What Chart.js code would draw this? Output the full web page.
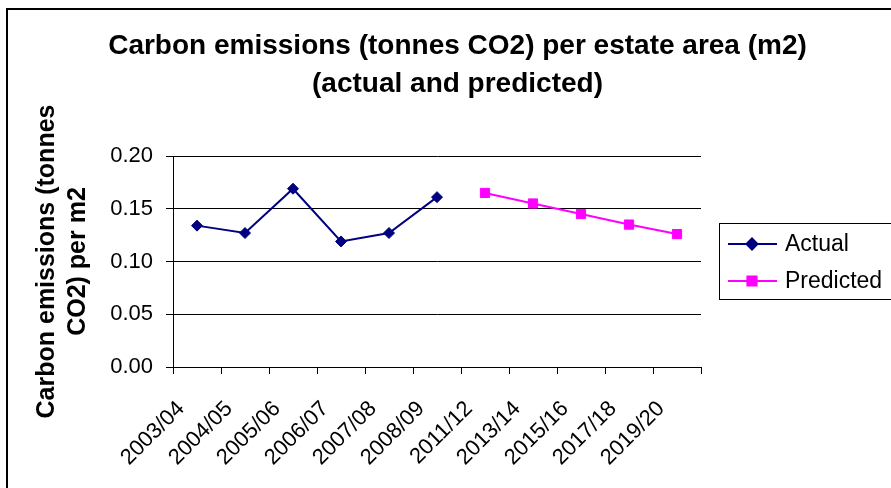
<!DOCTYPE html>
<html>
<head>
<meta charset="utf-8">
<script src="https://cdn.jsdelivr.net/npm/chart.js@4"></script>
<style>
  body { margin: 0; background: #fff; }
  canvas { display: block; }
</style>
</head>
<body>
<canvas id="grafico" width="891" height="488"></canvas>
<script>
// data
const years = ["2003/04", "2004/05", "2005/06", "2006/07", "2007/08", "2008/09", "2011/12", "2013/14", "2015/16", "2017/18", "2019/20"];
const actual = [0.134, 0.127, 0.169, 0.119, 0.127, 0.161, null, null, null, null, null];
const predicted = [null, null, null, null, null, null, 0.165, 0.155, 0.145, 0.135, 0.126];
const yTicks = [0, 0.05, 0.1, 0.15, 0.2];

const font = "'Liberation Sans', Arial, sans-serif";
const grafico = document.getElementById("grafico");

//outer frame
const frame = {
  id: "frame",
  beforeDraw: (chart) => {
    const ctx = chart.ctx;
    ctx.save();
    ctx.fillStyle = "#fff";
    ctx.fillRect(0, 0, chart.width, chart.height);
    ctx.strokeStyle = "#000";
    ctx.lineWidth = 2;
    ctx.strokeRect(7, 9, chart.width + 10, chart.height + 10);
    ctx.restore();
  },
};

//legend with line + marker, like excel
const boxLegend = {
  id: "boxLegend",
  afterDraw: (chart) => {
    const ctx = chart.ctx;
    ctx.save();
    ctx.strokeStyle = "#000";
    ctx.lineWidth = 1;
    ctx.strokeRect(719.5, 223.5, 200, 76);
    chart.data.datasets.forEach((ds, i) => {
      const y = 244 + i * 37;
      ctx.strokeStyle = ds.borderColor;
      ctx.lineWidth = 2;
      ctx.beginPath();
      ctx.moveTo(728, y);
      ctx.lineTo(777, y);
      ctx.stroke();
      ctx.fillStyle = ds.backgroundColor;
      Chart.helpers.drawPoint(ctx, { pointStyle: ds.pointStyle, radius: ds.pointRadius, rotation: 0, borderWidth: 1 }, 752, y);
      ctx.fillStyle = "#000";
      ctx.font = "23px " + font;
      ctx.textBaseline = "middle";
      ctx.textAlign = "left";
      ctx.fillText(ds.label, 785, y + 1);
    });
    ctx.restore();
  },
};

const datasets = [
  {
    label: "Actual",
    data: actual,
    borderColor: "#000080",
    backgroundColor: "#000080",
    borderWidth: 2,
    pointStyle: "rectRot",
    pointRadius: 5.5,
    pointBorderWidth: 1,
    tension: 0,
  },
  {
    label: "Predicted",
    data: predicted,
    borderColor: "#ff00ff",
    backgroundColor: "#ff00ff",
    borderWidth: 2,
    pointStyle: "rect",
    pointRadius: 6.5,
    pointBorderWidth: 1,
    tension: 0,
  },
];

const config = {
  type: "line",
  data: { labels: years, datasets },
  options: {
    responsive: false,
    animation: false,
    devicePixelRatio: 1,
    layout: { padding: { left: 24, right: 0, top: 0, bottom: 0 } },
    plugins: {
      legend: { display: false },
      tooltip: { enabled: false },
      title: {
        display: true,
        text: ["Carbon emissions (tonnes CO2) per estate area (m2)", "(actual and predicted)"],
        color: "#000",
        font: { family: font, size: 28, weight: "bold", lineHeight: "38px" },
        padding: { top: 27, bottom: 53 },
      },
    },
    scales: {
      x: {
        offset: true,
        grid: { offset: true, drawOnChartArea: false, drawTicks: true, tickLength: 7, color: "#000" },
        border: { color: "#000", width: 1 },
        ticks: {
          color: "#000",
          font: { family: font, size: 22 },
          minRotation: 45,
          maxRotation: 45,
          autoSkip: false,
          labelOffset: -16,
          padding: 22,
        },
        afterFit: (scale) => { scale.height = 121; },
      },
      y: {
        min: 0,
        max: 0.2,
        afterBuildTicks: (scale) => { scale.ticks = yTicks.map((v) => ({ value: v })); },
        grid: { color: "#000", lineWidth: 1, tickLength: 7 },
        border: { color: "#000", width: 1 },
        ticks: {
          color: "#000",
          font: { family: font, size: 22 },
          padding: 13,
          callback: (v) => v.toFixed(2),
        },
        title: {
          display: true,
          text: ["Carbon emissions (tonnes", "CO2) per m2"],
          color: "#000",
          font: { family: font, size: 25, weight: "bold", lineHeight: "31px" },
          padding: { top: 7.5, bottom: 0 },
        },
        afterFit: (scale) => { scale.width = 149; },
      },
      //empty right scale, keeps room for the legend
      side: {
        position: "right",
        grid: { display: false },
        border: { display: false },
        ticks: { display: false },
        afterFit: (scale) => { scale.width = 190; },
      },
    },
  },
  plugins: [frame, boxLegend],
};

const chart = new Chart(grafico, config);
</script>
</body>
</html>
